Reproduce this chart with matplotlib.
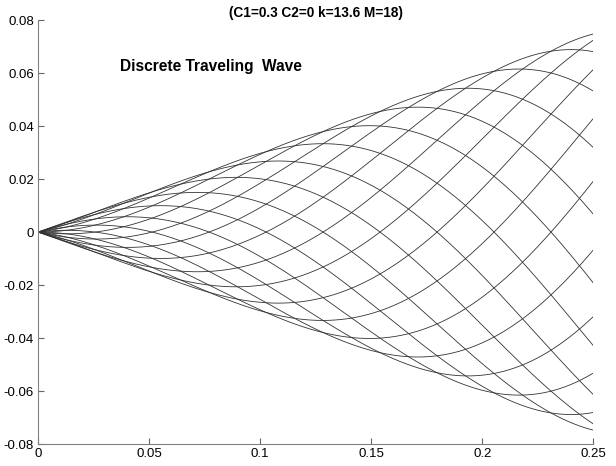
import numpy as np
import matplotlib
matplotlib.use("Agg")
import matplotlib.pyplot as plt
from matplotlib.ticker import FuncFormatter

# parameters shown in the chart title
C1 = 0.3
C2 = 0
k = 13.6
M = 18

# time steps of the discrete wave, one curve each
steps = list(range(M))
x = np.linspace(0, 0.25, 200)

xticks = [0, 0.05, 0.1, 0.15, 0.2, 0.25]
yticks = [-0.08, -0.06, -0.04, -0.02, 0, 0.02, 0.04, 0.06, 0.08]

plt.rcParams['font.family'] = ['Liberation Sans', 'DejaVu Sans']
plt.rcParams['axes.unicode_minus'] = False

fig = plt.figure(figsize=(6.16, 4.66), dpi=100)
ax = fig.add_axes([0.062, 0.047, 0.901, 0.91])

for m in steps:
    phase = 2 * np.pi * m / M
    y = C1 * x * np.sin(k * x - phase) + C2 * x * np.cos(k * x - phase)
    ax.plot(x, y, color='0.2', lw=0.6)

ax.set_xlim(0, 0.25)
ax.set_ylim(-0.08, 0.08)
ax.set_xticks(xticks)
ax.set_yticks(yticks)
fmt = FuncFormatter(lambda v, p: '%g' % round(v, 4))
ax.xaxis.set_major_formatter(fmt)
ax.yaxis.set_major_formatter(fmt)
ax.tick_params(direction='in', length=4, labelsize=9.5, color='0.4', pad=3)
for s in ['top', 'right']:
    ax.spines[s].set_visible(False)
for s in ['left', 'bottom']:
    ax.spines[s].set_color('0.5')

ax.set_title('(C1=0.3 C2=0 k=13.6 M=18)', fontsize=9.8, fontweight='bold', pad=2.5)
ax.text(0.037, 0.0608, 'Discrete Traveling  Wave', fontsize=11.2, fontweight='bold', va='baseline')

fig.savefig('out.png', dpi=100)
